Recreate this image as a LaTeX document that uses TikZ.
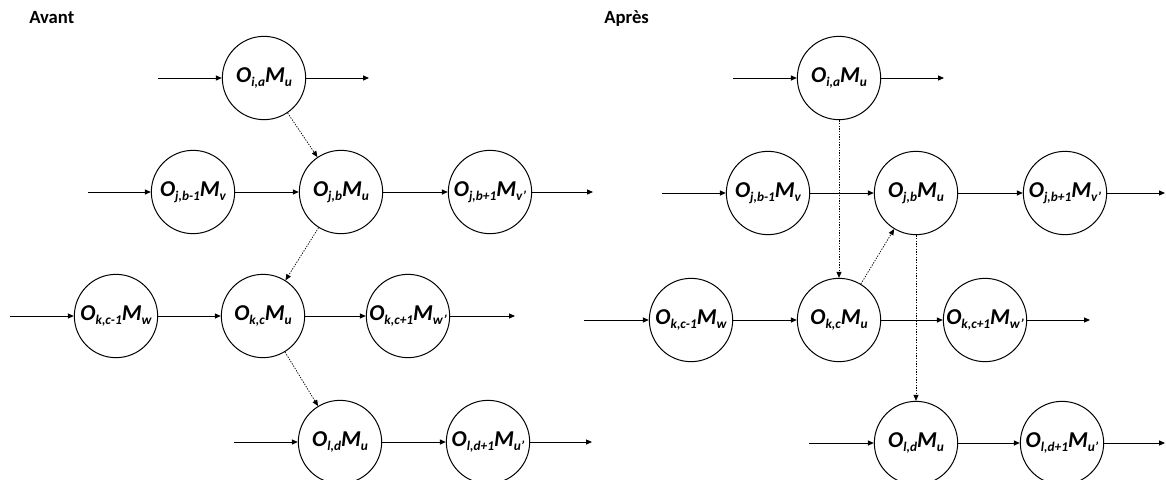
\documentclass[tikz,border=0pt]{standalone}
\usepackage{fontspec}
\setmainfont{Carlito}
\usetikzlibrary{arrows.meta}
\tikzset{
  op/.style={circle, draw, line width=0.75pt, minimum size=62.5pt, inner sep=0pt,
    font=\fontsize{17}{19}\selectfont\bfseries\itshape},
  flow/.style={line width=0.75pt, -{Triangle[length=4.5pt,width=3.8pt]}},
  dep/.style={line width=0.55pt, dash pattern=on 1pt off 1pt, -{Triangle[length=4.5pt,width=3.8pt]}},
  paneltitle/.style={anchor=base west, font=\fontsize{14}{16}\selectfont\bfseries, inner sep=0pt}
}
\newcommand{\lbl}[1]{\makebox[0pt][c]{#1}}
\newcommand{\sbs}[1]{\raisebox{-2.6pt}{\fontsize{10}{10}\selectfont #1}}
\begin{document}
\begin{tikzpicture}[x=0.75pt,y=-0.75pt]
\useasboundingbox (0,0) rectangle (1166,479);
% ---------- Avant ----------
\node[paneltitle] (tA) at (29,23) {Avant};
\node[op] (A1)  at (264,78)  {\lbl{O\sbs{i,a}M\sbs{u}}};
\node[op] (A2a) at (193,192) {\lbl{O\sbs{j,b-1}M\sbs{v}}};
\node[op] (A2b) at (341,192) {\lbl{O\sbs{j,b}M\sbs{u}}};
\node[op] (A2c) at (490,192) {\lbl{O\sbs{j,b+1}M\sbs{v’}}};
\node[op] (A3a) at (116,316) {\lbl{O\sbs{k,c-1}M\sbs{w}}};
\node[op] (A3b) at (263,316) {\lbl{O\sbs{k,c}M\sbs{u}}};
\node[op] (A3c) at (408,316) {\lbl{O\sbs{k,c+1}M\sbs{w’}}};
\node[op] (A4a) at (340,442) {\lbl{O\sbs{l,d}M\sbs{u}}};
\node[op] (A4b) at (488,442) {\lbl{O\sbs{l,d+1}M\sbs{u’}}};
\coordinate (a1i) at (158,78);  \coordinate (a1o) at (369,78);
\coordinate (a2i) at (88,192);  \coordinate (a2o) at (593,192);
\coordinate (a3i) at (10,316);  \coordinate (a3o) at (515,316);
\coordinate (a4i) at (234,442); \coordinate (a4o) at (592,442);
\draw[flow] (a1i) -- (A1); \draw[flow] (A1) -- (a1o);
\draw[flow] (a2i) -- (A2a); \draw[flow] (A2a) -- (A2b); \draw[flow] (A2b) -- (A2c); \draw[flow] (A2c) -- (a2o);
\draw[flow] (a3i) -- (A3a); \draw[flow] (A3a) -- (A3b); \draw[flow] (A3b) -- (A3c); \draw[flow] (A3c) -- (a3o);
\draw[flow] (a4i) -- (A4a); \draw[flow] (A4a) -- (A4b); \draw[flow] (A4b) -- (a4o);
\draw[dep] (A1) -- (A2b);
\draw[dep] (A2b) -- (A3b);
\draw[dep] (A3b) -- (A4a);
% ---------- Apres ----------
\node[paneltitle] (tB) at (604,23) {Après};
\node[op] (B1)  at (839,78)  {\lbl{O\sbs{i,a}M\sbs{u}}};
\node[op] (B2a) at (768,193) {\lbl{O\sbs{j,b-1}M\sbs{v}}};
\node[op] (B2b) at (916,193) {\lbl{O\sbs{j,b}M\sbs{u}}};
\node[op] (B2c) at (1065,193) {\lbl{O\sbs{j,b+1}M\sbs{v’}}};
\node[op] (B3a) at (691,320) {\lbl{O\sbs{k,c-1}M\sbs{w}}};
\node[op] (B3b) at (839,320) {\lbl{O\sbs{k,c}M\sbs{u}}};
\node[op] (B3c) at (985,320) {\lbl{O\sbs{k,c+1}M\sbs{w’}}};
\node[op] (B4a) at (916,443) {\lbl{O\sbs{l,d}M\sbs{u}}};
\node[op] (B4b) at (1062,443) {\lbl{O\sbs{l,d+1}M\sbs{u’}}};
\coordinate (b1i) at (733,78);  \coordinate (b1o) at (944,78);
\coordinate (b2i) at (662,193); \coordinate (b2o) at (1165,193);
\coordinate (b3i) at (584,320); \coordinate (b3o) at (1090,320);
\coordinate (b4i) at (809,443); \coordinate (b4o) at (1165,443);
\draw[flow] (b1i) -- (B1); \draw[flow] (B1) -- (b1o);
\draw[flow] (b2i) -- (B2a); \draw[flow] (B2a) -- (B2b); \draw[flow] (B2b) -- (B2c); \draw[flow] (B2c) -- (b2o);
\draw[flow] (b3i) -- (B3a); \draw[flow] (B3a) -- (B3b); \draw[flow] (B3b) -- (B3c); \draw[flow] (B3c) -- (b3o);
\draw[flow] (b4i) -- (B4a); \draw[flow] (B4a) -- (B4b); \draw[flow] (B4b) -- (b4o);
\draw[dep] (B1) -- (B3b);
\draw[dep] (B3b) -- (B2b);
\draw[dep] (B2b) -- (B4a);
\end{tikzpicture}
\end{document}
